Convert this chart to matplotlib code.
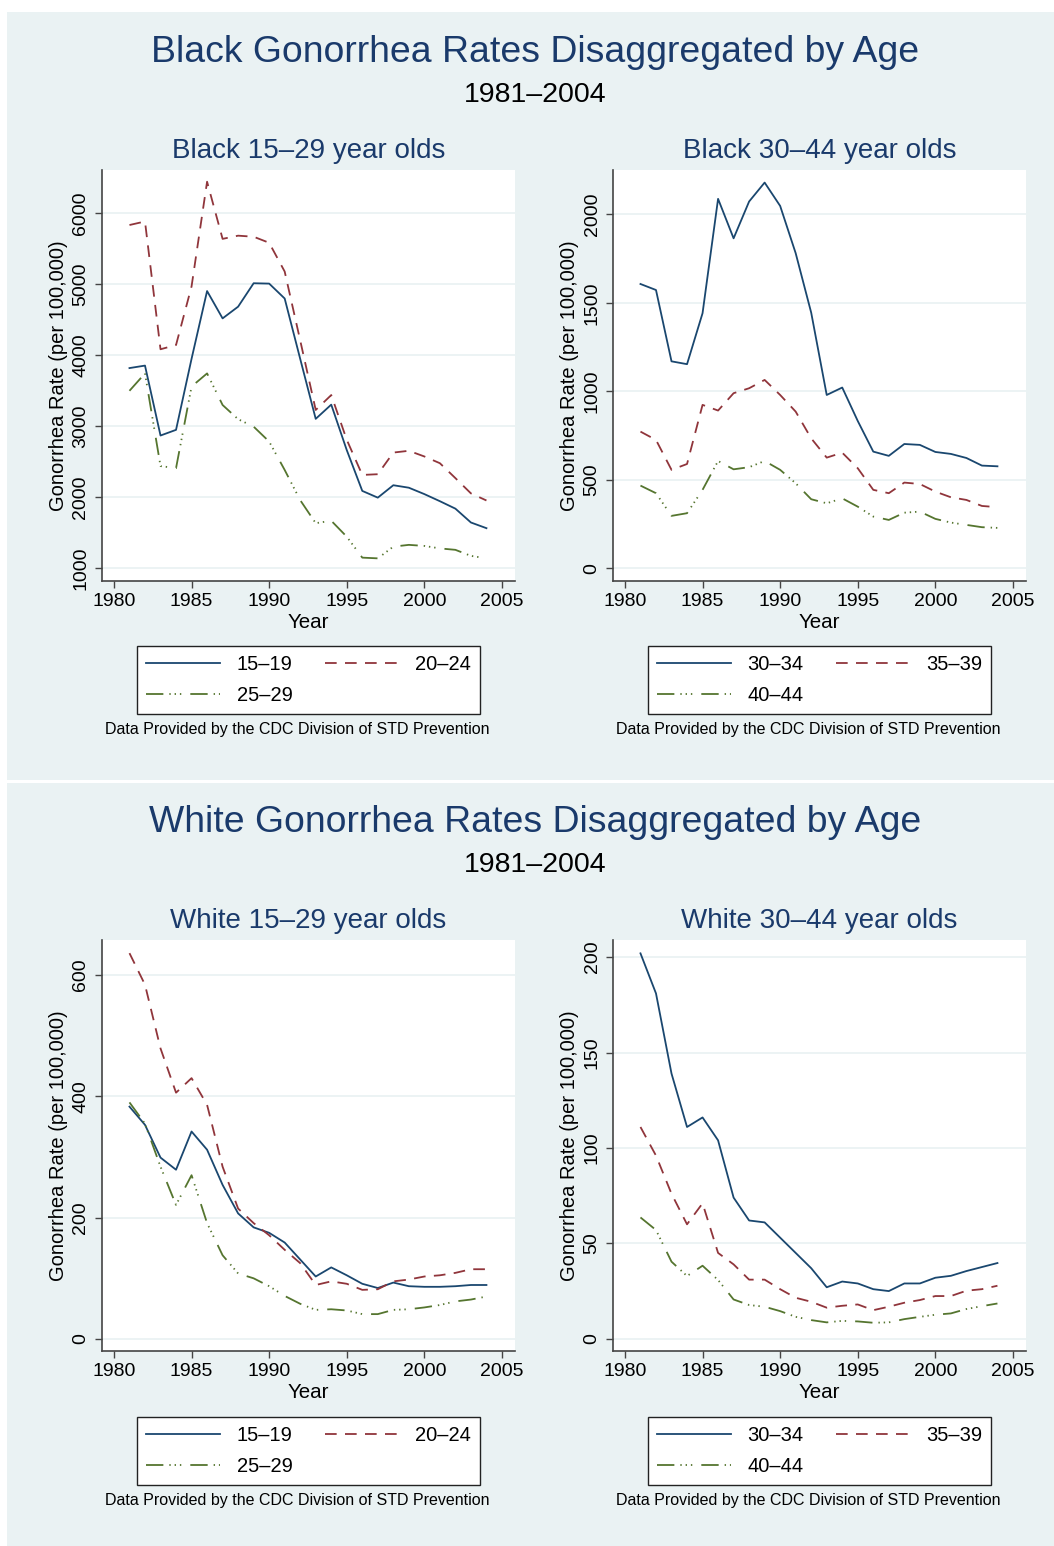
import matplotlib
matplotlib.use("Agg")
import matplotlib.pyplot as plt
from matplotlib.patches import Rectangle
from matplotlib.lines import Line2D

plt.rcParams['font.family'] = ['Liberation Sans', 'DejaVu Sans']
plt.rcParams['lines.scale_dashes'] = False

years = list(range(1981, 2005))

# Black, ages 15-29
black_15_19 = [3820, 3855, 2870, 2950, 3950, 4905, 4520, 4685, 5015, 5010, 4800, 3950,
               3105, 3305, 2665, 2090, 1995, 2170, 2135, 2045, 1945, 1840, 1645, 1565]
black_20_24 = [5835, 5885, 4085, 4145, 4970, 6445, 5640, 5685, 5670, 5585, 5180, 4210,
               3230, 3440, 2810, 2315, 2325, 2630, 2655, 2575, 2480, 2270, 2055, 1955]
black_25_29 = [3500, 3745, 2440, 2410, 3560, 3745, 3300, 3100, 2995, 2785, 2385, 1960,
               1635, 1670, 1445, 1150, 1140, 1305, 1330, 1315, 1280, 1260, 1175, 1140]

# Black, ages 30-44
black_30_34 = [1606, 1572, 1169, 1153, 1441, 2087, 1864, 2072, 2179, 2047, 1780, 1444,
               979, 1021, 832, 659, 635, 702, 697, 657, 646, 623, 580, 576]
black_35_39 = [772, 725, 556, 589, 923, 891, 989, 1017, 1064, 979, 885, 734,
               625, 653, 565, 443, 424, 484, 476, 433, 401, 386, 352, 345]
black_40_44 = [467, 424, 296, 311, 443, 606, 559, 571, 606, 556, 480, 390,
               367, 395, 348, 292, 273, 314, 320, 279, 258, 245, 232, 228]

# White, ages 15-29
white_15_19 = [383, 353, 299, 279, 342, 312, 254, 207, 184, 175, 159, 131,
               103, 118, 105, 91, 84, 93, 87, 86, 86, 87, 89, 89]
white_20_24 = [636, 584, 479, 406, 430, 386, 284, 215, 191, 171, 147, 125,
               89, 95, 91, 81, 82, 95, 98, 103, 105, 109, 115, 115]
white_25_29 = [390, 355, 284, 221, 270, 191, 138, 108, 100, 87, 71, 58,
               48, 49, 47, 41, 41, 48, 49, 52, 56, 62, 65, 70]

# White, ages 30-44
white_30_34 = [202, 181, 139, 111, 116, 104, 74, 62, 61, 53, 45, 37,
               27, 30, 29, 26, 25, 29, 29, 32, 33, 35.5, 37.6, 39.7]
white_35_39 = [111, 96, 76, 60, 71, 45, 39, 31, 31, 26, 21.5, 19.4,
               16.3, 17.3, 18, 15, 16.8, 18.9, 20.3, 22.4, 22.4, 25.2, 26, 27.8]
white_40_44 = [63.6, 57, 40.4, 32.9, 38.3, 30.8, 20.6, 17.7, 16.8, 14.5, 11.5, 9.8,
               8.6, 9.4, 9.1, 8.4, 8.6, 10.3, 11.5, 12.6, 13.3, 15.6, 17.1, 18.5]

x_ticks = [1980, 1985, 1990, 1995, 2000, 2005]
labels_young = ["15\u201319", "20\u201324", "25\u201329"]
labels_old = ["30\u201334", "35\u201339", "40\u201344"]

NAVY = "#1a476f"
MAROON = "#90353b"
GREEN = "#55752f"
BG = "#eaf2f3"
TITLE = "#1a3a6b"

styles = [
    dict(color=NAVY, linestyle="-"),
    dict(color=MAROON, linestyle=(0, (8.4, 6.0))),
    dict(color=GREEN, linestyle=(0, (12.5, 4.3, 1.0, 2.8, 1.0, 2.8, 1.0, 6.5))),
]

W, H = 1054, 1546
fig = plt.figure(figsize=(W / 100, H / 100), dpi=100)
fig.patch.set_facecolor("white")


def px_rect(x0, y0, x1, y1):
    return [x0 / W, 1 - y1 / H, (x1 - x0) / W, (y1 - y0) / H]


def fx(x):
    return x / W


def fy(y):
    return 1 - y / H


# section backgrounds
for (y0, y1) in [(12, 780), (783, 1546)]:
    fig.patches.append(Rectangle((fx(7), fy(y1)), fx(W) - fx(7), fy(y0) - fy(y1),
                                 transform=fig.transFigure, facecolor=BG,
                                 edgecolor="none", zorder=-10))


def panel(rect, series, labels, yticks, ylim, title, legend_top):
    ax = fig.add_axes(px_rect(*rect))
    ax.set_zorder(2)
    ax.set_facecolor("white")
    for vals, st in zip(series, styles):
        ax.plot(years, vals, lw=1.3, **st)
    ax.set_xlim(1979.23, 2005.84)
    ax.set_ylim(*ylim)
    ax.set_xticks(x_ticks)
    ax.set_yticks(yticks)
    ax.set_yticklabels([str(v) for v in yticks], rotation=90, va="center")
    ax.yaxis.grid(True, color=BG, lw=1.3)
    ax.set_axisbelow(True)
    for s in ["top", "right"]:
        ax.spines[s].set_visible(False)
    for s in ["left", "bottom"]:
        ax.spines[s].set_color("#444444")
        ax.spines[s].set_linewidth(1.2)
    ax.tick_params(direction="out", length=5, width=1.0, color="#444444",
                   labelsize=14, pad=4)
    ax.set_xlabel("Year", fontsize=14.8, labelpad=2)
    ax.set_ylabel("Gonorrhea Rate (per 100,000)", fontsize=14.5, labelpad=3)
    cx = (rect[0] + rect[2]) / 2
    fig.text(fx(cx), fy(rect[1] - 12), title, ha="center", va="baseline",
             fontsize=20, color=TITLE)
    handles = [Line2D([], [], lw=1.3, **st) for st in styles]
    # row-wise order: first row holds entries 1 and 2, second row entry 3
    order = [0, 2, 1]
    leg = fig.legend([handles[i] for i in order], [labels[i] for i in order],
                     loc="upper center",
                     bbox_to_anchor=(fx(cx), fy(legend_top)), ncol=2,
                     fontsize=14.5, frameon=True, fancybox=False,
                     edgecolor="#222222", facecolor="white", framealpha=1,
                     handlelength=3.7, handletextpad=0.8, columnspacing=1.6,
                     borderpad=0.45, labelspacing=0.58, borderaxespad=0)
    leg.get_frame().set_linewidth(1.0)
    leg.set_zorder(3)
    fig.text(fx(cx - 11), fy(legend_top + 83), "Data Provided by the CDC Division of STD Prevention",
             ha="center", va="center", fontsize=11.5)
    return ax


def section_header(top, text):
    fig.text(fx(535), fy(top + 50), text, ha="center", va="baseline",
             fontsize=26.9, color=TITLE)
    fig.text(fx(535), fy(top + 89.7), "1981\u20132004", ha="center", va="baseline",
             fontsize=20.5)


# Black
section_header(12, "Black Gonorrhea Rates Disaggregated by Age")
panel((102, 170, 515, 581), [black_15_19, black_20_24, black_25_29], labels_young,
      [1000, 2000, 3000, 4000, 5000, 6000], (821, 6610), "Black 15\u201329 year olds", 646)
panel((613, 170, 1026, 581), [black_30_34, black_35_39, black_40_44], labels_old,
      [0, 500, 1000, 1500, 2000], (-72, 2250), "Black 30\u201344 year olds", 646)

# White
section_header(782, "White Gonorrhea Rates Disaggregated by Age")
panel((102, 940, 515, 1351), [white_15_19, white_20_24, white_25_29], labels_young,
      [0, 200, 400, 600], (-19.8, 657.7), "White 15\u201329 year olds", 1417)
panel((613, 940, 1026, 1351), [white_30_34, white_35_39, white_40_44], labels_old,
      [0, 50, 100, 150, 200], (-6.4, 209), "White 30\u201344 year olds", 1417)

fig.savefig("out.png", dpi=100, facecolor="white")
